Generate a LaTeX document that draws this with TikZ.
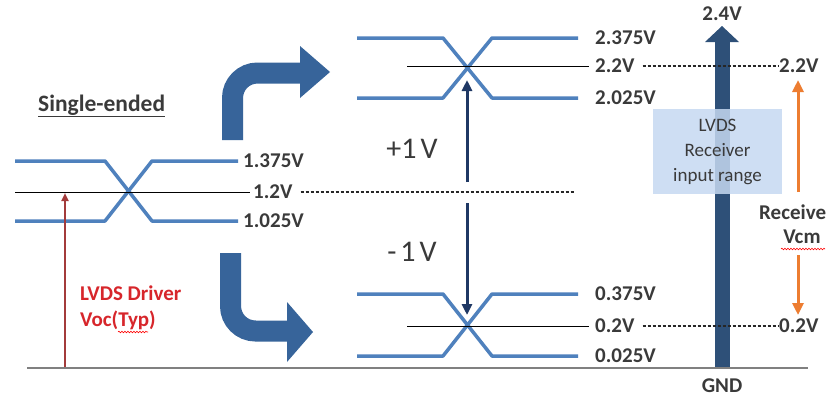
\documentclass[tikz,border=0pt]{standalone}
\usepackage{fontspec}
\setmainfont{Carlito}
\usetikzlibrary{arrows.meta,decorations.pathmorphing}
\definecolor{wave}{HTML}{4F81BD}
\definecolor{bendblue}{HTML}{37649A}
\definecolor{navy}{HTML}{1F3864}
\definecolor{pole}{HTML}{2E5078}
\definecolor{boxblue}{HTML}{C6D9F1}
\definecolor{lbl}{HTML}{3A3A3A}
\definecolor{drvred}{HTML}{D7262B}
\definecolor{arrred}{HTML}{A33B3B}
\definecolor{orng}{HTML}{ED7D31}
\tikzset{
  wavestyle/.style={draw=wave, line width=3.5pt, line join=round},
  midline/.style={draw=black, line width=1pt},
  dashline/.style={draw=black!85, line width=1.1pt, dash pattern=on 3pt off 2pt},
  lab/.style={font=\fontsize{21}{25}\selectfont\bfseries, text=lbl, inner sep=0pt, anchor=west},
  biglab/.style={font=\fontsize{30}{36}\selectfont, text=lbl, inner sep=0pt},
  navyarrow/.style={draw=navy, line width=3pt, -{Triangle[length=11pt,width=10pt]}},
  orarrow/.style={draw=orng, line width=3pt, -{Triangle[length=12pt,width=11pt]}},
  bendarrow/.style={draw=bendblue, line width=21pt, rounded corners=25pt},
  wavy/.style={draw=red, line width=0.6pt, decorate, decoration={snake,amplitude=0.8pt,segment length=3pt}}
}
\begin{document}
\begin{tikzpicture}[x=1pt,y=-1pt]
\useasboundingbox (0,0) rectangle (834,402);
\fill[white] (0,0) rectangle (834,402);

% baseline
\coordinate (gl) at (27,368);
\coordinate (gr) at (808,368);
\draw[gray, line width=2pt] (gl) -- (gr);

% left single-ended waveform
\draw[wavestyle] (15,161) -- (105,161) -- (152,221) -- (238,221);
\draw[wavestyle] (15,221) -- (105,221) -- (152,161) -- (238,161);
\node[lab] (l1375) at (243,161) {1.375V};
\node[lab] (l1025) at (243,221) {1.025V};
\node[lab] (l12) at (253,192) {1.2V};
\coordinate (lm0) at (15,192);
\draw[midline] (lm0) -- ([xshift=-3pt]l12.west);
\coordinate (d12) at (575,192);
\draw[dashline] ([xshift=8pt]l12.east) -- (d12);

\node[font=\fontsize{23.5}{28}\selectfont\bfseries, text=lbl, inner sep=0pt, anchor=west] (se) at (38,106) {\underline{Single-ended}};

% red driver arrow
\coordinate (ra0) at (65,367);
\coordinate (ra1) at (65,193);
\draw[arrred, line width=2pt, -{Triangle[length=8pt,width=7pt]}] (ra0) -- (ra1);
\node[font=\fontsize{21}{25}\selectfont\bfseries, text=drvred, inner sep=0pt, anchor=west] (drv1) at (80,293) {LVDS Driver};
\node[font=\fontsize{21}{25}\selectfont\bfseries, text=drvred, inner sep=0pt, anchor=west] (drv2) at (80,320) {Voc(Typ)};
\draw[wavy] (118,332) -- (148,332);

% bent arrows
\draw[bendarrow] (232.5,140) -- (232.5,73) -- (301,73);
\fill[bendblue] (300,46) -- (330,72) -- (300,98) -- cycle;
\draw[bendarrow] (230.5,253) -- (230.5,331) -- (288,331);
\fill[bendblue] (287,302) -- (313,332) -- (287,362) -- cycle;

% upper waveform
\draw[wavestyle] (357,38) -- (443,38) -- (492,98) -- (578,98);
\draw[wavestyle] (357,98) -- (443,98) -- (492,38) -- (578,38);
\node[lab] (u2375) at (595,38) {2.375V};
\node[lab] (u22) at (595,66) {2.2V};
\node[lab] (u2025) at (595,98) {2.025V};
\coordinate (um0) at (407,66);
\draw[midline] (um0) -- ([xshift=-6pt]u22.west);

% lower waveform
\draw[wavestyle] (357,294) -- (443,294) -- (492,356) -- (578,356);
\draw[wavestyle] (357,356) -- (443,356) -- (492,294) -- (578,294);
\node[lab] (b0375) at (595,294) {0.375V};
\node[lab] (b02) at (595,326) {0.2V};
\node[lab] (b0025) at (595,356) {0.025V};
\coordinate (bm0) at (407,326);
\draw[midline] (bm0) -- ([xshift=-6pt]b02.west);

% +1V / -1V arrows
\coordinate (ua0) at (467,182);
\coordinate (ua1) at (467,80);
\coordinate (la0) at (467,203);
\coordinate (la1) at (467,315);
\draw[navyarrow] (ua0) -- (ua1);
\draw[navyarrow] (la0) -- (la1);
\node[biglab] (plus) at (412,149) {+1\hspace{4pt}V};
\node[biglab] (minus) at (412,252) {-\hspace{4pt}1\hspace{4pt}V};

% pole arrow
\fill[pole] (714.5,367) rectangle (729.5,41);
\fill[pole] (705,42) -- (722,26) -- (739,42) -- cycle;
\node[lab, anchor=center] (top) at (722,14) {2.4V};
\node[lab, anchor=center] (gnd) at (722,386) {GND};

% receiver box
\node[fill=boxblue, fill opacity=0.85, text opacity=1, minimum width=129pt, minimum height=85pt, inner sep=0pt,
      align=center, text=lbl, font=\fontsize{19}{25}\selectfont] (rbox) at (717.5,151.5) {LVDS\\Receiver\\input range};

% right dashed references
\node[lab] (r22) at (779,66) {2.2V};
\node[lab] (r02) at (779,326) {0.2V};
\draw[dashline] ([xshift=8pt]u22.east) -- (r22.west);
\draw[dashline] ([xshift=8pt]b02.east) -- (r02.west);

% orange Vcm arrows
\coordinate (oa0) at (798,192);
\coordinate (oa1) at (798,80);
\coordinate (ob0) at (798,255);
\coordinate (ob1) at (798,315);
\draw[orarrow] (oa0) -- (oa1);
\draw[orarrow] (ob0) -- (ob1);
\node[lab] (rcv) at (759,212) {Receive};
\node[lab, anchor=center] (vcm) at (802,237) {Vcm};
\draw[wavy] (781,249) -- (825,249);
\end{tikzpicture}
\end{document}
